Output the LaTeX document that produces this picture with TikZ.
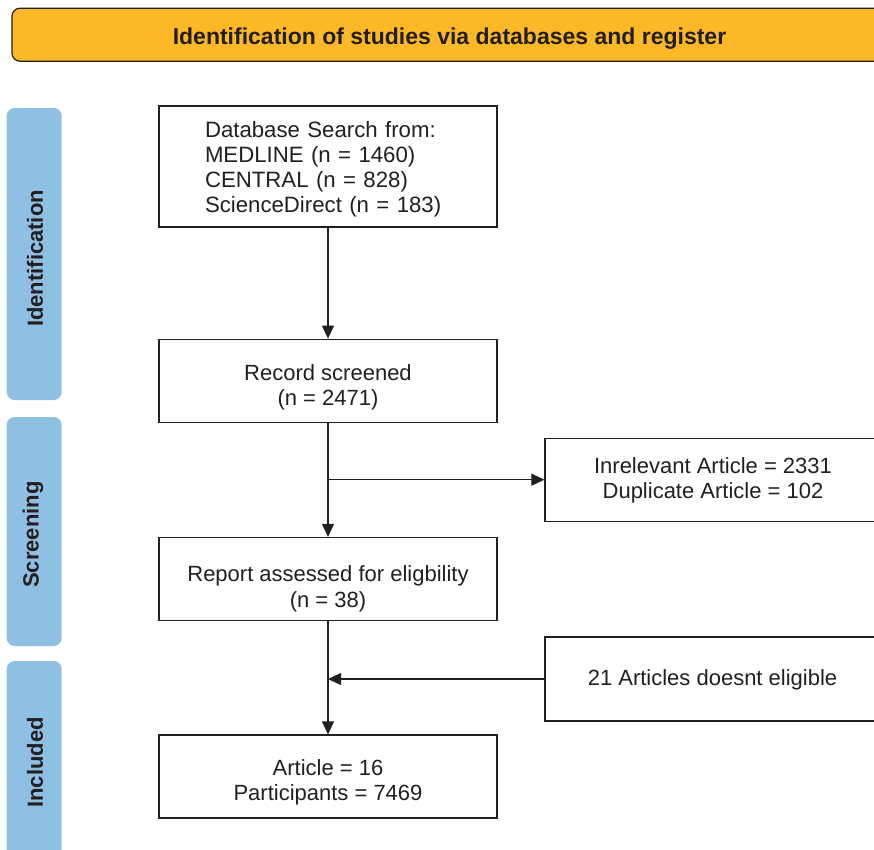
\documentclass[tikz,border=0pt]{standalone}
\usepackage{fontspec}
\setmainfont{Liberation Sans}
\usetikzlibrary{arrows.meta,calc}
\definecolor{linec}{RGB}{35,31,32}
\definecolor{barorange}{RGB}{253,184,39}
\definecolor{barblue}{RGB}{143,191,227}
\begin{document}
\begin{tikzpicture}[x=1pt,y=-1pt,
  boxnode/.style={draw=linec,line width=1.3pt,rectangle,inner sep=0pt,minimum width=338pt,minimum height=83pt},
  sidebox/.style={draw=linec,line width=1.3pt,rectangle,inner sep=0pt,minimum width=335pt,minimum height=83pt},
  boxtext/.style={inner sep=0pt,align=center,text=linec,font=\fontsize{22}{25.5}\selectfont},
  phasebar/.style={fill=barblue,rounded corners=8pt,inner sep=0pt,minimum width=55pt},
  phasetext/.style={inner sep=0pt,rotate=90,text=linec,font=\fontsize{22}{24}\selectfont\bfseries},
  arr/.style={draw=linec,line width=1.2pt,-{Triangle[length=13pt,width=12pt]}}]
\clip (0,0) rectangle (874,849);
\fill[white] (0,0) rectangle (874,849);
% title bar
\node[draw=linec,line width=1.2pt,fill=barorange,rounded corners=8pt,inner sep=0pt,
      minimum width=875pt,minimum height=53pt] (titlebar) at (449.5,34.7) {};
\node[inner sep=0pt,text=linec,font=\fontsize{23}{25}\selectfont\bfseries] (titletext) at (449.5,38.5)
  {Identification of studies via databases and register};
% phase bars
\node[phasebar,minimum height=292pt] (barid) at (34.2,254) {};
\node[phasebar,minimum height=229pt] (barsc) at (34.2,531.5) {};
\node[phasebar,minimum height=204pt] (barin) at (34.2,763) {};
\node[phasetext] (labid) at (35,258.5) {Identification};
\node[phasetext] (labsc) at (33,534.5) {Screening};
\node[phasetext] (labin) at (35,762.5) {Included};
% main boxes
\node[boxnode,minimum height=121pt] (box1) at (328,166.5) {};
\node[boxnode] (box2) at (328,380.75) {};
\node[boxnode] (box3) at (328,579) {};
\node[boxnode] (box4) at (328,776.5) {};
\node[boxtext,align=left,text width=246pt,font=\fontsize{22.2}{25}\selectfont] (t1) at (328,169.5)
  {Database Search from:\\MEDLINE (n = 1460)\\CENTRAL (n = 828)\\ScienceDirect (n = 183)};
\node[boxtext] (t2) at (328,387.5) {Record screened\\(n = 2471)};
\node[boxtext] (t3) at (328,589) {Report assessed for eligbility\\(n = 38)};
\node[boxtext] (t4) at (328,782.5) {Article = 16\\Participants = 7469};
% side boxes
\node[sidebox] (ra) at (712.5,479.7) {};
\node[sidebox,minimum height=84pt] (rb) at (712.5,679) {};
\node[boxtext] (ta) at (713,480.5) {Inrelevant Article = 2331\\Duplicate Article = 102};
\node[boxtext] (tb) at (712.5,680) {21 Articles doesnt eligible};
% connectors
\draw[arr] (box1.south) -- (box2.north);
\draw[arr] (box2.south) -- (box3.north);
\draw[arr] (box2.south |- ra.west) -- (ra.west);
\draw[arr] (box3.south) -- (box4.north);
\draw[arr] (rb.west) -- (box3.south |- rb.west);
\end{tikzpicture}
\end{document}
